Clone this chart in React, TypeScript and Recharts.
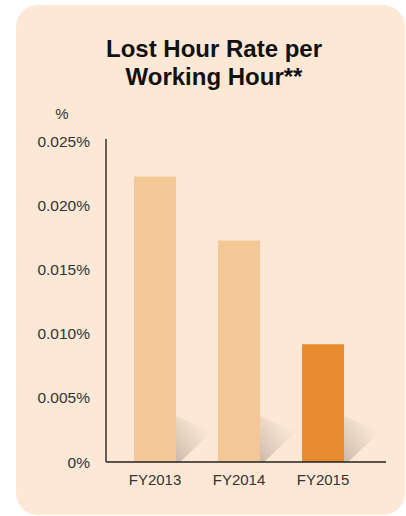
import { Bar, BarChart, XAxis, YAxis } from 'recharts';

const years = ['FY2013', 'FY2014', 'FY2015'];
const lostHourRate = [0.0223, 0.0173, 0.0092];
const yTicks = [0, 0.005, 0.01, 0.015, 0.02, 0.025];

const data = years.map((year, i) => ({ year, rate: lostHourRate[i] }));

const FONT = '"Liberation Sans", Arial, Helvetica, sans-serif';
const LIGHT = '#f4c797';
const DARK = '#e98b2f';

function ShadowBar(props: any) {
  const { x, y, width, height, index } = props;
  const right = x + width;
  const base = y + height;
  const id = `shade-${index}`;
  const fill = index === years.length - 1 ? DARK : LIGHT;
  return (
    <g>
      <defs>
        <linearGradient id={id} x1="0" y1="1" x2="1" y2="0">
          <stop offset="0%" stopColor="#a8978a" stopOpacity={0.6} />
          <stop offset="45%" stopColor="#c4b3a3" stopOpacity={0.35} />
          <stop offset="100%" stopColor="#fde8d6" stopOpacity={0} />
        </linearGradient>
      </defs>
      <polygon
        points={`${right},${base} ${right},${base - 46} ${right + 36},${base - 30} ${right + 4},${base}`}
        fill={`url(#${id})`}
      />
      <rect x={x} y={y} width={width} height={height} fill={fill} />
    </g>
  );
}

const fmt = (v: number) => (v === 0 ? '0%' : `${v.toFixed(3)}%`);

export default function App() {
  return (
    <div style={{ position: 'absolute', left: 0, top: 0, width: 406, height: 516, overflow: 'hidden', fontFamily: FONT }}>
      <div
        style={{
          position: 'absolute',
          left: 16,
          top: 5,
          width: 389,
          height: 510,
          borderRadius: 22,
          background: '#fde8d6',
        }}
      />
      <div
        style={{
          position: 'absolute',
          left: 64,
          top: 35,
          width: 300,
          textAlign: 'center',
          fontSize: 24,
          lineHeight: '28px',
          fontWeight: 'bold',
          color: '#111',
        }}
      >
        Lost Hour Rate per
        <br />
        Working Hour**
      </div>
      <div
        style={{
          position: 'absolute',
          left: 42,
          top: 106,
          width: 40,
          textAlign: 'center',
          fontSize: 15,
          lineHeight: '15px',
          color: '#333',
        }}
      >
        %
      </div>
      <div style={{ position: 'absolute', left: 0, top: 0 }}>
        <BarChart
          width={406}
          height={516}
          data={data}
          margin={{ top: 139, right: 20, bottom: 24, left: 0 }}
          barSize={42}
        >
          <XAxis
            dataKey="year"
            height={30}
            axisLine={{ stroke: '#222', strokeWidth: 1.5 }}
            tickLine={false}
            tickSize={6}
            tickMargin={6}
            padding={{ left: 7, right: 21 }}
            tick={{ fill: '#333', fontSize: 15, fontFamily: FONT }}
          />
          <YAxis
            width={106}
            domain={[0, 0.02523]}
            ticks={yTicks}
            tickFormatter={fmt}
            axisLine={{ stroke: '#333', strokeWidth: 1.5 }}
            tickLine={false}
            tickSize={8}
            tickMargin={8}
            tick={{ fill: '#333', fontSize: 15.5, fontFamily: FONT }}
          />
          <Bar dataKey="rate" shape={ShadowBar} isAnimationActive={false} />
        </BarChart>
      </div>
    </div>
  );
}
